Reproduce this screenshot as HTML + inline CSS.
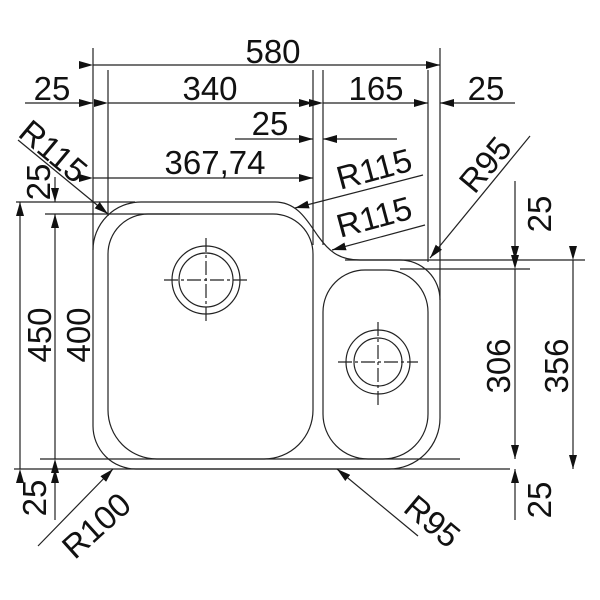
<!DOCTYPE html>
<html><head><meta charset="utf-8"><style>body{margin:0;background:#fff}svg{display:block}text{font-family:"Liberation Sans",Arial,sans-serif;font-size:33px;fill:#111}</style></head>
<body>
<svg width="600" height="600" viewBox="0 0 600 600" xmlns="http://www.w3.org/2000/svg">
<defs>
<marker id="a" viewBox="0 0 14 8" refX="14" refY="4" markerWidth="14" markerHeight="8" markerUnits="userSpaceOnUse" orient="auto"><path d="M0,0 L14,4 L0,8 Z" fill="#111"/></marker>
</defs>
<g stroke="#222" stroke-width="1.2" fill="none">
<line x1="93" y1="48" x2="93" y2="250"/>
<line x1="108" y1="70" x2="108" y2="216"/>
<line x1="313" y1="70" x2="313" y2="245"/>
<line x1="323" y1="70" x2="323" y2="245"/>
<line x1="428" y1="70" x2="428" y2="262"/>
<line x1="440" y1="48" x2="440" y2="300"/>
<line x1="16" y1="202" x2="135" y2="202"/>
<line x1="45" y1="214" x2="180" y2="214"/>
<line x1="14" y1="469" x2="510" y2="469"/>
<line x1="40" y1="459" x2="460" y2="459"/>
<line x1="345" y1="260" x2="585" y2="260"/>
<line x1="400" y1="269" x2="530" y2="269"/>
<path d="M93,250 A48 48 0 0 1 141,202 L275,202 C298,202 308,222 318,236 C328,250 338,260 360,260 L400,260 A40 40 0 0 1 440,300 L440,418 A51 51 0 0 1 389,469 L136,469 A43 43 0 0 1 93,426 Z"/>
<path d="M108,254 A40 40 0 0 1 148,214 L273,214 A40 40 0 0 1 313,254 L313,410 A49 49 0 0 1 264,459 L157,459 A49 49 0 0 1 108,410 Z"/>
<path d="M323,312 A42 42 0 0 1 365,270 L386,270 A42 42 0 0 1 428,312 L428,414 A45 45 0 0 1 383,459 L368,459 A45 45 0 0 1 323,414 Z"/>
<circle cx="206" cy="280" r="34"/><circle cx="206" cy="280" r="27"/>
<line x1="164" y1="280" x2="248" y2="280" stroke-dasharray="14,3,3,3"/>
<line x1="206" y1="238" x2="206" y2="322" stroke-dasharray="14,3,3,3"/>
<circle cx="378" cy="362" r="32"/><circle cx="378" cy="362" r="24"/>
<line x1="338" y1="362" x2="418" y2="362" stroke-dasharray="14,3,3,3"/>
<line x1="378" y1="322" x2="378" y2="405" stroke-dasharray="14,3,3,3"/>
<line x1="93" y1="65" x2="440" y2="65" marker-start="url(#a)" marker-end="url(#a)"/>
<line x1="25" y1="103" x2="93" y2="103" marker-end="url(#a)"/>
<line x1="108" y1="103" x2="313" y2="103" marker-start="url(#a)" marker-end="url(#a)"/>
<line x1="323" y1="103" x2="428" y2="103" marker-start="url(#a)" marker-end="url(#a)"/>
<line x1="515" y1="103" x2="440" y2="103" marker-end="url(#a)"/>
<line x1="235" y1="139" x2="313" y2="139" marker-end="url(#a)"/>
<line x1="397" y1="139" x2="323" y2="139" marker-end="url(#a)"/>
<line x1="93" y1="178" x2="313" y2="178" marker-start="url(#a)" marker-end="url(#a)"/>
<line x1="20" y1="469" x2="20" y2="202" marker-start="url(#a)" marker-end="url(#a)"/>
<line x1="55" y1="459" x2="55" y2="214" marker-start="url(#a)" marker-end="url(#a)"/>
<line x1="55" y1="177" x2="55" y2="202" marker-end="url(#a)"/>
<line x1="55" y1="520" x2="55" y2="469" marker-end="url(#a)"/>
<line x1="515" y1="181" x2="515" y2="260" marker-end="url(#a)"/>
<line x1="515" y1="269" x2="515" y2="459" marker-start="url(#a)" marker-end="url(#a)"/>
<line x1="515" y1="520" x2="515" y2="469" marker-end="url(#a)"/>
<line x1="573" y1="260" x2="573" y2="469" marker-start="url(#a)" marker-end="url(#a)"/>
<line x1="18" y1="140" x2="108" y2="214" marker-end="url(#a)"/>
<line x1="423" y1="175" x2="295" y2="208" marker-end="url(#a)"/>
<line x1="425" y1="225" x2="332" y2="250" marker-end="url(#a)"/>
<line x1="530" y1="136" x2="430" y2="258" marker-end="url(#a)"/>
<line x1="38" y1="546" x2="113" y2="469" marker-end="url(#a)"/>
<line x1="418" y1="536" x2="337" y2="469" marker-end="url(#a)"/>
</g>
<g text-anchor="middle">
<text x="273" y="63">580</text>
<text x="52" y="100">25</text>
<text x="210" y="100">340</text>
<text x="376" y="100">165</text>
<text x="486" y="100">25</text>
<text x="270" y="135">25</text>
<text x="215" y="174">367,74</text>
<text transform="translate(51,335) rotate(-90)">450</text>
<text transform="translate(90,335) rotate(-90)">400</text>
<text transform="translate(50,182) rotate(-90)">25</text>
<text transform="translate(46,498) rotate(-90)">25</text>
<text transform="translate(510,366) rotate(-90)">306</text>
<text transform="translate(568,366) rotate(-90)">356</text>
<text transform="translate(551,214) rotate(-90)">25</text>
<text transform="translate(551,500) rotate(-90)">25</text>
<text transform="translate(46,160) rotate(40)">R115</text>
<text transform="translate(377,180) rotate(-15)">R115</text>
<text transform="translate(377,228) rotate(-15)">R115</text>
<text transform="translate(494,172) rotate(-50)">R95</text>
<text transform="translate(104,534) rotate(-42)">R100</text>
<text transform="translate(425,530) rotate(40)">R95</text>
</g>
</svg>
</body></html>
